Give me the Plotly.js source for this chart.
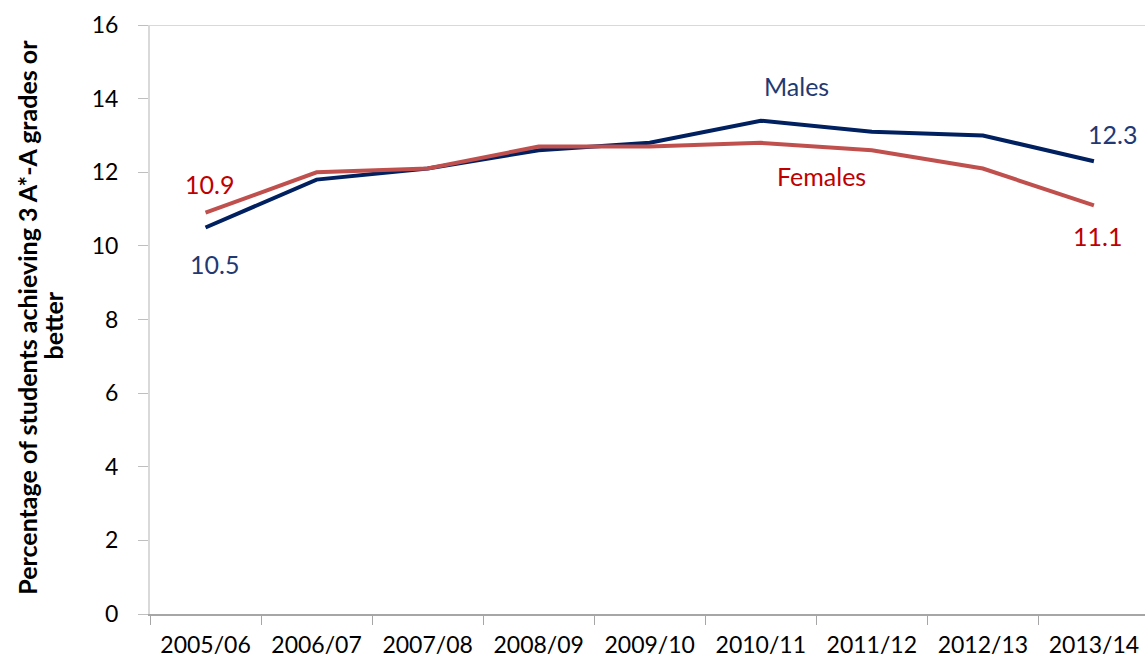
<!DOCTYPE html>
<html>
<head>
<meta charset="utf-8">
<script src="https://cdn.plot.ly/plotly-3.0.1.min.js"></script>
<style>html,body{margin:0;padding:0;background:#fff;overflow:hidden}#chart{width:1145px;height:658px}</style>
</head>
<body>
<div id="chart"></div>
<script>
const years = ["2005/06","2006/07","2007/08","2008/09","2009/10","2010/11","2011/12","2012/13","2013/14"];
const males = [10.5, 11.8, 12.1, 12.6, 12.8, 13.4, 13.1, 13.0, 12.3];
const females = [10.9, 12.0, 12.1, 12.7, 12.7, 12.8, 12.6, 12.1, 11.1];
const seriesNames = ["Males", "Females"];
const yTitleLines = ["Percentage of students achieving 3 A*-A grades or", "better"];

const FONT = "Lato, 'Open Sans', sans-serif";
const maleLine = "#002060", maleText = "#1F3A73";
const femaleLine = "#C0504D", femaleText = "#C00000";

const traces = [
  {x: years, y: males, name: seriesNames[0], type: "scatter", mode: "lines",
   line: {color: maleLine, width: 4}},
  {x: years, y: females, name: seriesNames[1], type: "scatter", mode: "lines",
   line: {color: femaleLine, width: 4}}
];

const last = years.length - 1;
const labels = [
  {x: years[5], y: males[5], text: seriesNames[0], xshift: 36, yshift: 35, font: {color: maleText}},
  {x: years[6], y: females[6], text: seriesNames[1], xshift: -50, yshift: -26, font: {color: femaleText}},
  {x: years[0], y: females[0], text: String(females[0]), xshift: 4, yshift: 29, font: {color: femaleText}},
  {x: years[0], y: males[0], text: String(males[0]), xshift: 9, yshift: -37, font: {color: maleText}},
  {x: years[last], y: males[last], text: String(males[last]), xshift: 19, yshift: 27, font: {color: maleText}},
  {x: years[last], y: females[last], text: String(females[last]), xshift: 4, yshift: -31, font: {color: femaleText}}
].map(a => Object.assign({showarrow: false, xref: "x", yref: "y"}, a,
  {font: Object.assign({family: FONT, size: 25}, a.font)}));

const titleFont = {family: FONT, size: 25, color: "#000", weight: "bold"};
const titleAnns = [
  {text: yTitleLines[0], xshift: -123, y: 0.503},
  {text: yTitleLines[1], xshift: -97, y: 0.49}
].map(a => Object.assign({xref: "paper", yref: "paper", x: 0, xanchor: "center", yanchor: "middle",
  textangle: -90, showarrow: false, font: titleFont}, a));

const layout = {
  width: 1145, height: 658,
  margin: {l: 150, r: 0, t: 25, b: 44},
  paper_bgcolor: "#fff", plot_bgcolor: "#fff",
  showlegend: false,
  font: {family: FONT, size: 23, color: "#000"},
  xaxis: {
    type: "category", range: [-0.5, 8.46],
    showline: true, linecolor: "#A6A6A6", linewidth: 2,
    ticks: "outside", tickson: "boundaries", ticklen: 9, tickcolor: "#A6A6A6", tickwidth: 1,
    ticklabelstandoff: 9,
    showgrid: false, zeroline: false,
    tickfont: {family: FONT, size: 23, color: "#000"}
  },
  yaxis: {
    range: [0, 16], dtick: 2,
    showline: true, linecolor: "#D9D9D9", linewidth: 2,
    ticks: "outside", ticklen: 10, tickcolor: "#BFBFBF", tickwidth: 1,
    ticklabelstandoff: 15,
    showgrid: false, zeroline: false,
    tickfont: {family: FONT, size: 23, color: "#000"}
  },
  shapes: [
    {type: "line", xref: "paper", yref: "y", x0: 0, x1: 1, y0: 16, y1: 16,
     line: {color: "#D9D9D9", width: 2}}
  ],
  annotations: labels.concat(titleAnns)
};

Plotly.newPlot("chart", traces, layout, {displayModeBar: false, responsive: false});
</script>
</body>
</html>
